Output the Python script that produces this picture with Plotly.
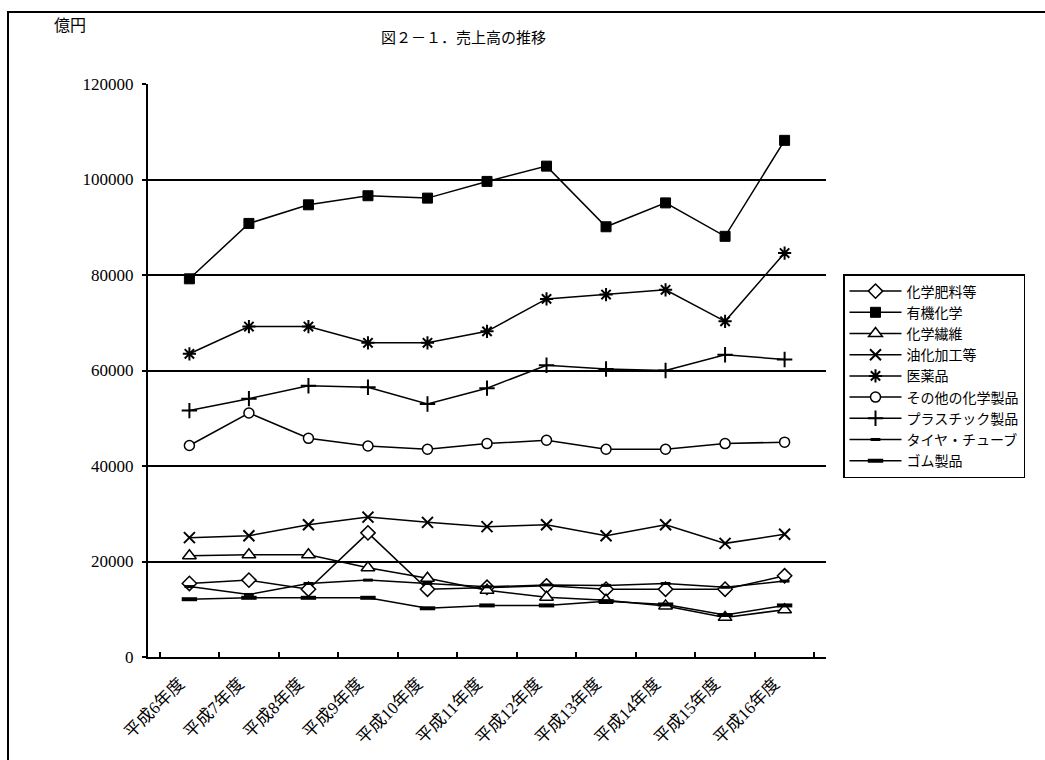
import plotly.graph_objects as go

# 年度ラベル
years = ["平成6年度", "平成7年度", "平成8年度", "平成9年度", "平成10年度", "平成11年度",
         "平成12年度", "平成13年度", "平成14年度", "平成15年度", "平成16年度"]

# 売上高（億円）
fertilizer = [15400, 16100, 14200, 26000, 14200, 14600, 14900, 14200, 14200, 14200, 17000]
organic = [79200, 90800, 94700, 96600, 96100, 99600, 102800, 90100, 95100, 88100, 108200]
fiber = [21200, 21400, 21400, 18700, 16500, 14000, 12500, 11900, 10700, 8300, 9900]
oleo = [25000, 25400, 27700, 29300, 28200, 27300, 27700, 25400, 27700, 23800, 25700]
pharma = [63500, 69200, 69200, 65800, 65800, 68200, 75000, 75900, 76900, 70300, 84600]
other_chem = [44300, 51100, 45800, 44200, 43500, 44700, 45400, 43500, 43500, 44700, 45000]
plastic = [51600, 54100, 56800, 56500, 53000, 56300, 61100, 60300, 60000, 63300, 62300]
tire = [14750, 13100, 15400, 16100, 15400, 14700, 15100, 15000, 15400, 14600, 15900]
rubber = [12100, 12400, 12400, 12400, 10200, 10800, 10800, 11700, 11000, 8800, 10800]

SERIF = "Liberation Serif, Noto Sans CJK JP, serif"
SANS = "Noto Sans CJK JP, sans-serif"

series = [
    ("化学肥料等", fertilizer, dict(symbol="diamond", size=11, color="white", line=dict(color="black", width=1.5))),
    ("有機化学", organic, dict(symbol="square", size=10, color="black", line=dict(color="black", width=1))),
    ("化学繊維", fiber, dict(symbol="triangle-up", size=12, color="white", line=dict(color="black", width=1.5))),
    ("油化加工等", oleo, dict(symbol="x-thin-open", size=11, color="black", line=dict(color="black", width=2))),
    ("医薬品", pharma, dict(symbol="asterisk-open", size=11, color="black", line=dict(color="black", width=2))),
    ("その他の化学製品", other_chem, dict(symbol="circle", size=10, color="white", line=dict(color="black", width=1.5))),
    ("プラスチック製品", plastic, dict(symbol="cross-thin-open", size=11, color="black", line=dict(color="black", width=2))),
    ("タイヤ・チューブ", tire, dict(symbol="line-ew-open", size=7, color="black", line=dict(color="black", width=3))),
    ("ゴム製品", rubber, dict(symbol="line-ew-open", size=11, color="black", line=dict(color="black", width=4))),
]

fig = go.Figure()
for name, vals, mk in series:
    fig.add_trace(go.Scatter(
        x=years, y=vals, name=name, mode="lines+markers",
        line=dict(color="black", width=1.5),
        marker=mk,
    ))

fig.update_layout(
    width=1045, height=760,
    margin=dict(l=148, r=219, t=84, b=103),
    paper_bgcolor="white", plot_bgcolor="white",
    showlegend=True,
    legend=dict(
        x=(843 - 148) / 678, y=(657 - 274) / 573, xanchor="left", yanchor="top",
        bordercolor="black", borderwidth=1.5,
        font=dict(family=SANS, size=14, color="black"),
        tracegroupgap=0, itemwidth=52,
        bgcolor="white",
    ),
    font=dict(family=SERIF, color="black"),
)

fig.update_xaxes(
    type="category", tickson="boundaries",
    ticks="inside", ticklen=5, tickcolor="black", tickwidth=1.5,
    showline=True, linecolor="black", linewidth=2,
    showgrid=False, tickangle=-45,
    ticklabelstandoff=8, ticklabelshift=-10,
    tickfont=dict(family=SERIF, size=17, color="black"),
)
fig.update_yaxes(
    range=[0, 120000], dtick=20000,
    ticks="outside", ticklen=4, tickcolor="black", tickwidth=1.5,
    showline=True, linecolor="black", linewidth=2,
    showgrid=True, gridcolor="black", gridwidth=1.5,
    zeroline=False, tickformat="d",
    ticklabelstandoff=5,
    tickfont=dict(family=SERIF, size=17, color="black"),
)

# タイトルと単位
fig.add_annotation(text="図２－１．売上高の推移", xref="paper", yref="paper",
                   x=(463 - 148) / 678, y=(657 - 38) / 573, xanchor="center", yanchor="middle",
                   showarrow=False, font=dict(family=SERIF, size=15, color="black"))
fig.add_annotation(text="億円", xref="paper", yref="paper",
                   x=(52 - 148) / 678, y=(657 - 24) / 573, xanchor="left", yanchor="middle",
                   showarrow=False, font=dict(family=SANS, size=16, color="black"))

# 外枠
fig.add_shape(type="rect", xref="paper", yref="paper",
              x0=(8 - 148) / 678, x1=(1060 - 148) / 678,
              y0=(657 - 780) / 573, y1=(657 - 12) / 573,
              line=dict(color="black", width=2), fillcolor="rgba(0,0,0,0)", layer="below")

fig.write_html("out.html")
